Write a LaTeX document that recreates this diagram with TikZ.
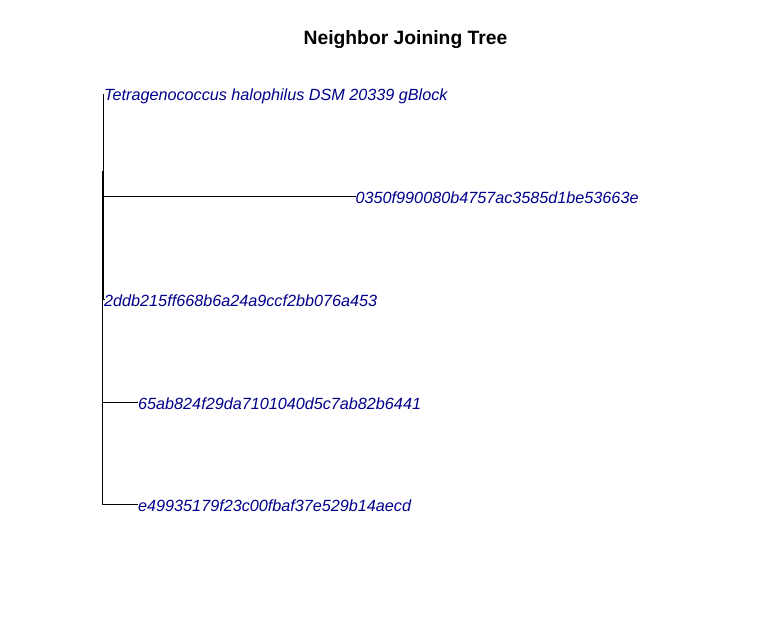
\documentclass[tikz,border=0pt]{standalone}
\usepackage{fontspec}
\setmainfont{Liberation Sans}
\begin{document}
\begin{tikzpicture}[x=1pt,y=-1pt,
  branch/.style={line width=1pt,black},
  tiplabel/.style={anchor=west,inner sep=0pt,yshift=-1pt,text=tipblue,font=\fontsize{16.2}{18}\selectfont\itshape},
  titlestyle/.style={font=\fontsize{19.3}{22}\selectfont\bfseries}]
\definecolor{tipblue}{HTML}{00008B}
\useasboundingbox (0,0) rectangle (772,620);
\node[titlestyle] (title) at (405.5,40) {Neighbor Joining Tree};
% internal nodes
\coordinate (rootTop) at (102,172);
\coordinate (rootBot) at (102,505);
\coordinate (cTop) at (103,95);
\coordinate (cMid) at (103,172);
\coordinate (cBot) at (103,248.5);
\coordinate (dTop) at (103.5,197);
\coordinate (dMid) at (103.5,248.5);
\coordinate (dBot) at (103.5,300);
\coordinate (r65) at (102,403);
% tips
\coordinate (tTetra) at (104,95);
\coordinate (t0350) at (355.5,197);
\coordinate (t2ddb) at (104,300);
\coordinate (t65ab) at (138,403);
\coordinate (te499) at (138,505);
% branches
\draw[branch] (rootTop) -- (rootBot);
\draw[branch] (rootTop) -- (cMid);
\draw[branch] (cTop) -- (cBot);
\draw[branch] (cBot) -- (dMid);
\draw[branch] (dTop) -- (dBot);
\draw[branch] (cTop) -- (tTetra);
\draw[branch] (dTop) -- (t0350);
\draw[branch] (dBot) -- (t2ddb);
\draw[branch] (r65) -- (t65ab);
\draw[branch] (rootBot) -- (te499);
% labels
\node[tiplabel] (lTetra) at (tTetra) {Tetragenococcus halophilus DSM 20339 gBlock};
\node[tiplabel] (l0350) at (t0350) {0350f990080b4757ac3585d1be53663e};
\node[tiplabel] (l2ddb) at (t2ddb) {2ddb215ff668b6a24a9ccf2bb076a453};
\node[tiplabel] (l65ab) at (t65ab) {65ab824f29da7101040d5c7ab82b6441};
\node[tiplabel] (le499) at (te499) {e49935179f23c00fbaf37e529b14aecd};
\end{tikzpicture}
\end{document}
